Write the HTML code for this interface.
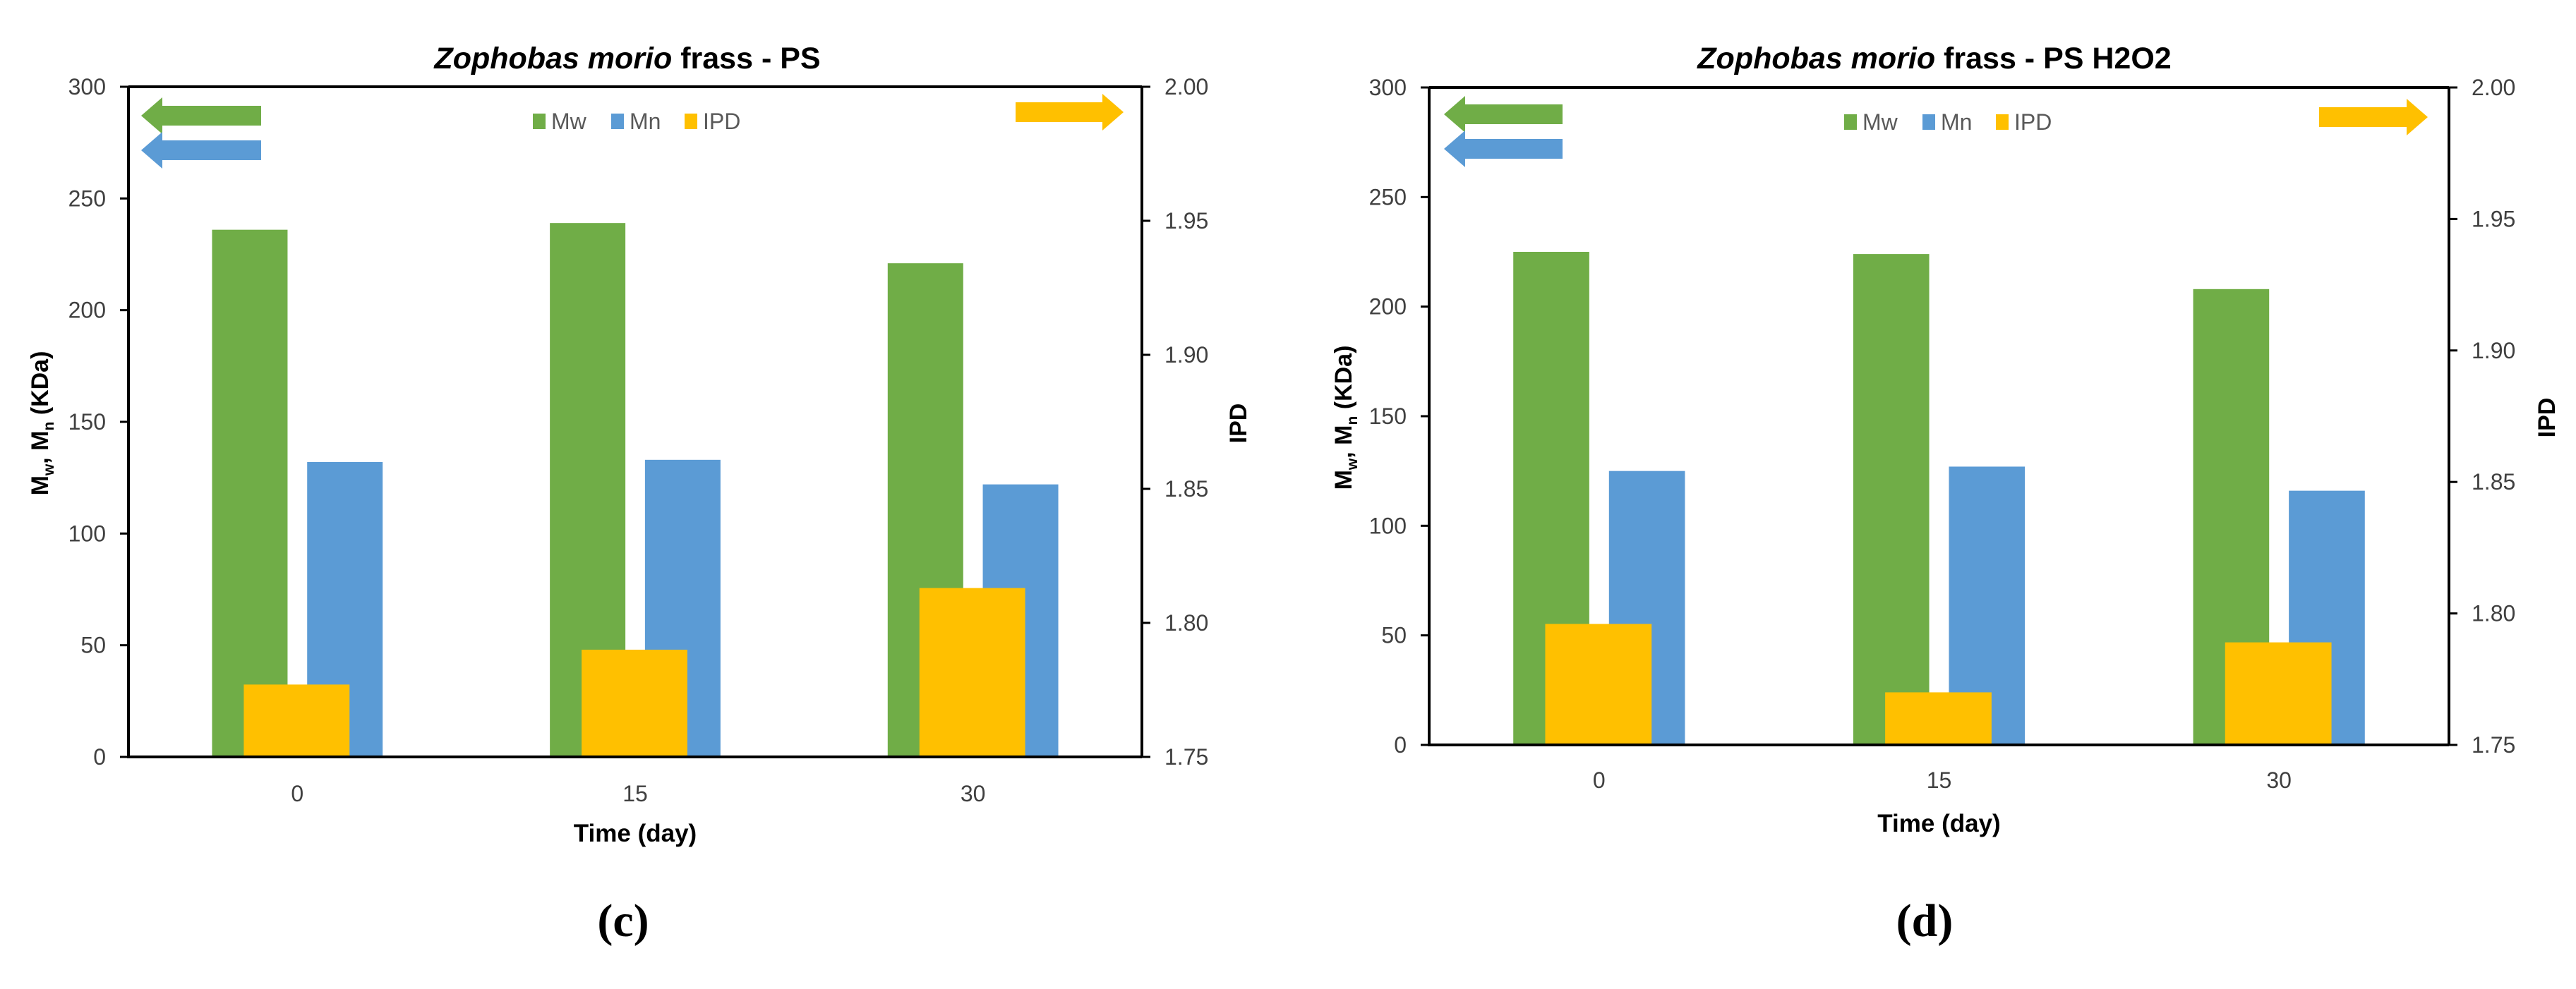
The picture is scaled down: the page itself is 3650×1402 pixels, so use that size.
<!DOCTYPE html>
<html><head><meta charset="utf-8">
<style>
html,body{margin:0;padding:0;background:#fff;}
svg{display:block;}
text{font-family:"Liberation Sans",sans-serif;}
</style></head>
<body>
<svg id="fig" width="3650" height="1402" viewBox="0 0 3650 1402" xmlns="http://www.w3.org/2000/svg"></svg>
<script>
const categories = ["0","15","30"];
const mwC = [236, 239, 221];
const mnC = [132, 133, 122];
const ipdC = [1.777, 1.790, 1.813];
const mwD = [225, 224, 208];
const mnD = [125, 127, 116];
const ipdD = [1.796, 1.770, 1.789];
const leftTicks = [0, 50, 100, 150, 200, 250, 300];
const rightTicks = [1.75, 1.80, 1.85, 1.90, 1.95, 2.00];
const leftRange = [0, 300];
const rightRange = [1.75, 2.00];

const svg = document.getElementById('fig');
const NS = 'http://www.w3.org/2000/svg';
function mk(tag, attrs, parent){
  const e = document.createElementNS(NS, tag);
  for (const k in attrs) e.setAttribute(k, attrs[k]);
  (parent||svg).appendChild(e);
  return e;
}

function drawChart(cfg, mw, mn, ipd){
  const g = mk('g', {});
  
  
  const L = cfg.left, R = cfg.right, T = cfg.top, B = cfg.bottom;
  const yL = v => B - (v - leftRange[0]) / (leftRange[1] - leftRange[0]) * (B - T);
  const yR = v => B - (v - rightRange[0]) / (rightRange[1] - rightRange[0]) * (B - T);
  const cw = (R - L) / categories.length;
  const xc = i => L + cw * (i + 0.5);
  const bw = cw * 0.2235, gap = cw * 0.029, yw = cw * 0.313;

  const t = mk('text', {x: cfg.titleX, y: cfg.titleY, 'text-anchor':'middle', 'font-size':43, 'font-weight':'bold', fill:'#000'}, g);
  
  
  const ts1 = mk('tspan', {'font-style':'italic'}, t); ts1.textContent = 'Zophobas morio';
  const ts2 = mk('tspan', {}, t); ts2.textContent = ' frass - ' + cfg.suffix;

  categories.forEach((c, i) => {
    const r1 = mk('rect', {x: xc(i) - gap - bw, y: yL(mw[i]), width: bw, height: B - yL(mw[i]), fill:'#70ad47'}, g);
    
    
    const r2 = mk('rect', {x: xc(i) + gap, y: yL(mn[i]), width: bw, height: B - yL(mn[i]), fill:'#5b9bd5'}, g);
    
    
    const r3 = mk('rect', {x: xc(i) - yw/2 - 1, y: yR(ipd[i]), width: yw, height: B - yR(ipd[i]), fill:'#ffc000'}, g);
    
    
    const xl = mk('text', {x: xc(i), y: cfg.xTickY, 'text-anchor':'middle', 'font-size':32, fill:'#404040'}, g);
    xl.textContent = c;
    
    
  });

  const ax = mk('path', {d:`M${L},${T} L${R},${T} M${L},${T} L${L},${B} L${R},${B} M${R},${T} L${R},${B}`, stroke:'#000', 'stroke-width':4, fill:'none'}, g);
  
  

  leftTicks.forEach(v => {
    const y = yL(v);
    mk('line', {x1: L-12, x2: L, y1: y, y2: y, stroke:'#000', 'stroke-width':3}, g);
    const tl = mk('text', {x: L-32, y: y+11, 'text-anchor':'end', 'font-size':32, fill:'#404040'}, g);
    tl.textContent = v;
    
    
  });
  rightTicks.forEach(v => {
    const y = yR(v);
    mk('line', {x1: R, x2: R+12, y1: y, y2: y, stroke:'#000', 'stroke-width':3}, g);
    const tl = mk('text', {x: R+32, y: y+11, 'text-anchor':'start', 'font-size':32, fill:'#404040'}, g);
    tl.textContent = v.toFixed(2);
    
    
  });

  const xt = mk('text', {x: (L+R)/2, y: cfg.xTitleY, 'text-anchor':'middle', 'font-size':35, 'font-weight':'bold', fill:'#000'}, g);
  xt.textContent = 'Time (day)';
  
  

  const yt = mk('text', {x: 0, y: 0, 'text-anchor':'middle', 'font-size':34, 'font-weight':'bold', fill:'#000', transform:`translate(${cfg.yTitleX},${cfg.yTitleY}) rotate(-90)`}, g);
  
  
  yt.innerHTML = 'M<tspan font-size="21" dy="8">w</tspan><tspan dy="-8">, M</tspan><tspan font-size="21" dy="8">n</tspan><tspan dy="-8"> (KDa)</tspan>';

  const rt = mk('text', {x: 0, y: 0, 'text-anchor':'middle', 'font-size':34, 'font-weight':'bold', fill:'#000', transform:`translate(${cfg.rTitleX},${cfg.yTitleY}) rotate(-90)`}, g);
  rt.textContent = 'IPD';
  
  

  const legend = [['Mw','#70ad47',0],['Mn','#5b9bd5',111],['IPD','#ffc000',215]];
  legend.forEach(([n,col,dx]) => {
    const lg = mk('g', {}, g);
    
    
    mk('rect', {x: cfg.legX + dx, y: cfg.legY - 10, width: 18, height: 22, fill: col}, lg);
    const lt = mk('text', {x: cfg.legX + dx + 26, y: cfg.legY + 12, 'font-size':32, fill:'#595959'}, lg);
    lt.textContent = n;
  });

  function arrow(x1, x2, y, col, dir, name){
    const h = 14, hh = 26, head = 30;
    let d;
    if (dir < 0) d = `M${x1},${y} L${x1+head},${y-hh} L${x1+head},${y-h} L${x2},${y-h} L${x2},${y+h} L${x1+head},${y+h} L${x1+head},${y+hh} Z`;
    else d = `M${x2},${y} L${x2-head},${y-hh} L${x2-head},${y-h} L${x1},${y-h} L${x1},${y+h} L${x2-head},${y+h} L${x2-head},${y+hh} Z`;
    const a = mk('path', {d, fill: col}, g);
    
    
  }
  arrow(cfg.arrL[0], cfg.arrL[1], cfg.arrGY, '#70ad47', -1, 'mw-axis-arrow');
  arrow(cfg.arrL[0], cfg.arrL[1], cfg.arrBY, '#5b9bd5', -1, 'mn-axis-arrow');
  arrow(cfg.arrR[0], cfg.arrR[1], cfg.arrYY, '#ffc000', 1, 'ipd-axis-arrow');

  const cap = mk('text', {x: cfg.capX, y: 1327, 'text-anchor':'middle', 'font-size':66, 'font-weight':'bold', fill:'#000', style:'font-family:"Liberation Serif",serif'}, g);
  cap.textContent = cfg.cap;
  
  
}

drawChart({id:'chart-c', suffix:'PS', left:182, right:1618, top:123, bottom:1073,
  titleX:889, titleY:97, xTickY:1136, xTitleY:1193, yTitleX:68, rTitleX:1766, yTitleY:600,
  legX:755, legY:171, arrL:[200,370], arrR:[1439,1592], arrGY:164, arrBY:213, arrYY:159,
  capX:883, cap:'(c)'}, mwC, mnC, ipdC);

drawChart({id:'chart-d', suffix:'PS H2O2', left:2025, right:3470, top:124, bottom:1056,
  titleX:2741, titleY:97, xTickY:1117, xTitleY:1179, yTitleX:1915, rTitleX:3620, yTitleY:592,
  legX:2613, legY:172, arrL:[2046,2214], arrR:[3286,3440], arrGY:162, arrBY:211, arrYY:166,
  capX:2727, cap:'(d)'}, mwD, mnD, ipdD);
</script>
</body></html>
